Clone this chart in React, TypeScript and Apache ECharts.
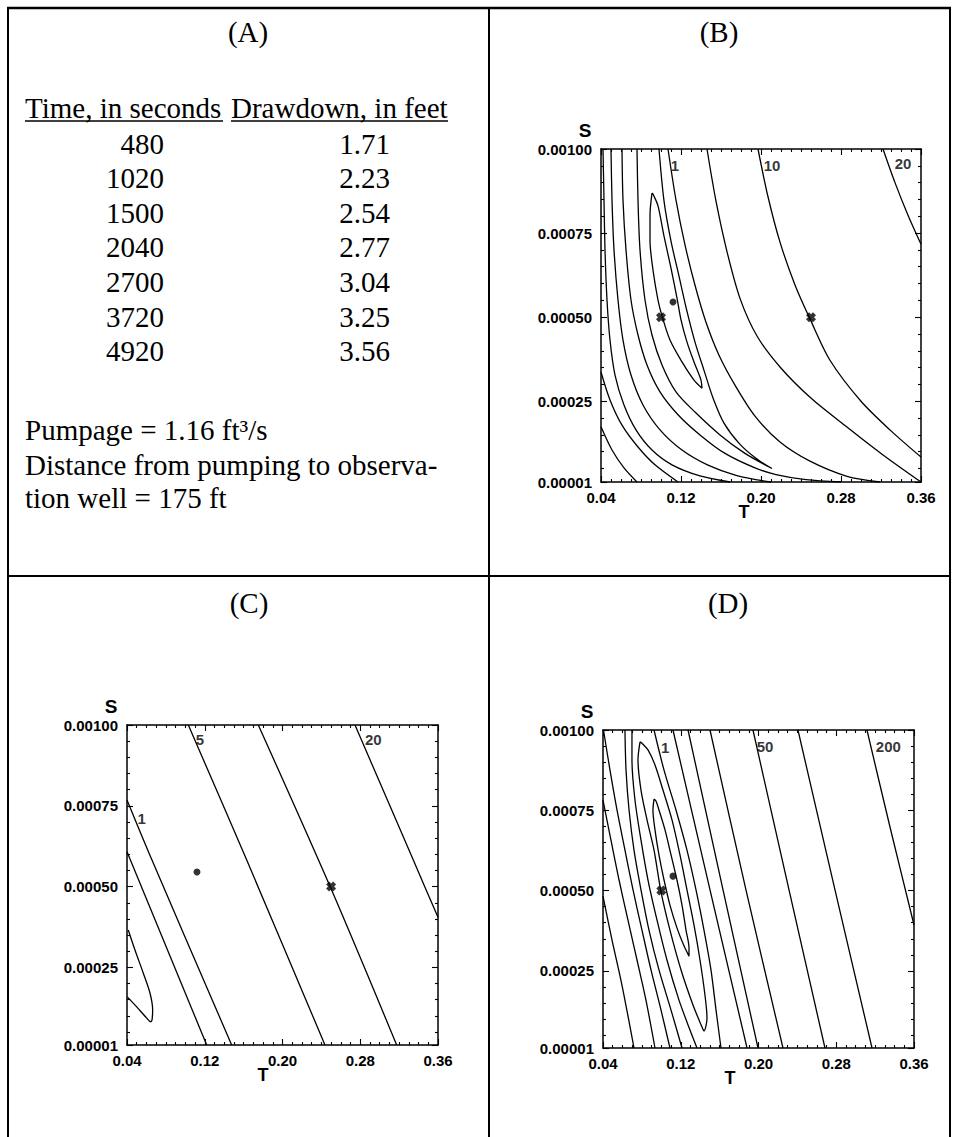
import React, { useEffect, useRef } from "react";
import * as echarts from "echarts";

// ---- Panel (A): pumping-test record ----
const TIMES_S = [480, 1020, 1500, 2040, 2700, 3720, 4920];
const DRAWDOWN_FT = ["1.71", "2.23", "2.54", "2.77", "3.04", "3.25", "3.56"];

// ---- Axis ticks: T in ft^2/s, S in units of 1e-4 ----
const T_TICKS = [0.04, 0.12, 0.2, 0.28, 0.36];
const S_TICKS = [0.1, 2.5, 5, 7.5, 10];

// ---- Marked parameter sets [T, S(1e-4)] ----
const ESTIMATE = [0.112, 5.45];
const CROSS_LOW_T = [0.1, 5.0];
const CROSS_HIGH_T = [0.25, 5.0];

// ---- Panel (B) contours ----
const B_RING_INNER = [[0.091, 8.69], [0.089, 8.04], [0.089, 7.29], [0.092, 6.4], [0.097, 5.51], [0.101, 5.04], [0.109, 4.32], [0.121, 3.67], [0.133, 3.13], [0.141, 2.89], [0.14, 3.13], [0.133, 3.67], [0.126, 4.26], [0.12, 4.92], [0.116, 5.57], [0.11, 6.46], [0.103, 7.41], [0.097, 8.31], [0.092, 8.66], [0.091, 8.69]];
const B_RING_2 = [[0.076, 10.0], [0.077, 8.48], [0.079, 7.0], [0.084, 5.51], [0.091, 4.47], [0.101, 3.58], [0.115, 2.78], [0.134, 2.18], [0.159, 1.5], [0.184, 0.95], [0.211, 0.5], [0.197, 0.76], [0.179, 1.22], [0.163, 1.85], [0.152, 2.6], [0.143, 3.42], [0.134, 4.26], [0.126, 5.17], [0.118, 6.22], [0.11, 7.26], [0.103, 8.46], [0.098, 10.0]];
const B_BAND3_L = [[0.061, 10.0], [0.062, 8.48], [0.065, 7.0], [0.07, 5.51], [0.077, 4.47], [0.086, 3.58], [0.099, 2.78], [0.117, 2.1], [0.139, 1.5], [0.164, 0.95], [0.194, 0.52], [0.215, 0.32], [0.245, 0.17], [0.28, 0.1]];
const B_BAND3_R = [[0.107, 10.0], [0.115, 8.48], [0.124, 7.15], [0.134, 5.95], [0.145, 4.85], [0.158, 3.87], [0.174, 2.98], [0.194, 2.06], [0.219, 1.29], [0.249, 0.72], [0.286, 0.27], [0.319, 0.1]];
const B_BAND4_L = [[0.05, 10.0], [0.051, 8.48], [0.053, 7.0], [0.057, 5.51], [0.062, 4.32], [0.07, 3.28], [0.082, 2.39], [0.099, 1.65], [0.121, 1.05], [0.147, 0.6], [0.175, 0.3], [0.21, 0.1]];
const B_BAND4_R = [[0.146, 10.0], [0.155, 8.45], [0.166, 6.95], [0.179, 5.56], [0.196, 4.44], [0.219, 3.52], [0.249, 2.62], [0.284, 1.78], [0.32, 0.95], [0.36, 0.1]];
const B_BAND5_L = [[0.042, 10.0], [0.043, 8.48], [0.044, 7.0], [0.046, 5.51], [0.049, 4.32], [0.054, 3.28], [0.063, 2.39], [0.075, 1.65], [0.091, 1.05], [0.111, 0.61], [0.139, 0.28], [0.169, 0.1]];
const B_BAND5_R = [[0.197, 10.0], [0.207, 8.58], [0.219, 7.23], [0.234, 5.96], [0.249, 4.95], [0.269, 3.72], [0.3, 2.5], [0.33, 1.62], [0.36, 0.84]];
const B_BAND6_L = [[0.04, 3.37], [0.049, 2.54], [0.061, 1.79], [0.077, 1.14], [0.094, 0.61], [0.117, 0.1]];
const B_BAND6_R = [[0.322, 10.0], [0.334, 9.0], [0.347, 8.03], [0.36, 7.17]];
const B_BAND7_L = [[0.04, 1.74], [0.051, 1.05], [0.063, 0.52], [0.076, 0.1]];
const B_LABELS: [number, number, string][] = [[0.114, 9.52, "1"], [0.211, 9.52, "10"], [0.342, 9.58, "20"]];

// ---- Panel (C) contours ----
const C_EDGE_A = [[0.04, 6.08], [0.122, 0.1]];
const C_EDGE_B = [[0.04, 7.68], [0.0657, 5.82], [0.1477, 0.1]];
const C_WEDGE = [[0.0413, 3.66], [0.0482, 3.04], [0.0568, 2.32], [0.0637, 1.7], [0.0664, 1.18], [0.0657, 0.87], [0.0644, 0.82], [0.0603, 0.93], [0.05, 1.28], [0.0403, 1.59]];
const C_LINE_5 = [[0.1031, 10.0], [0.1632, 5.82], [0.2437, 0.1]];
const C_LINE_MID = [[0.1751, 10.0], [0.249, 5.0], [0.3175, 0.1]];
const C_LINE_20 = [[0.2746, 10.0], [0.3346, 5.82], [0.36, 4.05]];
const C_LABELS: [number, number, string][] = [[0.0551, 7.12, "1"], [0.1151, 9.54, "5"], [0.2934, 9.54, "20"]];

// ---- Panel (D) contours ----
const D_RING_INNER = [[0.0925, 7.85], [0.0914, 7.51], [0.0935, 6.89], [0.0976, 6.11], [0.1028, 5.33], [0.1089, 4.55], [0.1161, 3.84], [0.1233, 3.28], [0.1285, 2.96], [0.1285, 3.21], [0.1254, 3.77], [0.1213, 4.55], [0.1161, 5.33], [0.11, 6.11], [0.1038, 6.89], [0.0976, 7.51], [0.0945, 7.79], [0.0925, 7.85]];
const D_RING_2 = [[0.0781, 9.63], [0.076, 9.07], [0.0791, 8.13], [0.0853, 7.2], [0.0925, 6.26], [0.0997, 4.96], [0.1089, 3.77], [0.1203, 2.53], [0.1326, 1.44], [0.1419, 0.75], [0.1439, 0.63], [0.147, 1.03], [0.1449, 1.75], [0.1398, 2.84], [0.1336, 3.93], [0.1264, 5.02], [0.1192, 6.11], [0.111, 7.2], [0.1017, 8.13], [0.0935, 8.91], [0.0863, 9.38], [0.0801, 9.59], [0.0781, 9.63]];
const D_BAND3_L = [[0.0698, 10.0], [0.0698, 9.07], [0.0729, 7.82], [0.0791, 6.57], [0.0863, 5.33], [0.0956, 4.08], [0.1058, 2.84], [0.1182, 1.59], [0.1295, 0.66], [0.1367, 0.1]];
const D_BAND3_R = [[0.0925, 10.0], [0.1028, 8.75], [0.1151, 7.51], [0.1264, 6.26], [0.1357, 5.02], [0.1439, 3.77], [0.1511, 2.53], [0.1563, 1.28], [0.1614, 0.1]];
const D_BAND4_L = [[0.0626, 10.0], [0.0637, 8.75], [0.0668, 7.51], [0.0719, 6.26], [0.0791, 5.02], [0.0873, 3.77], [0.0976, 2.53], [0.11, 1.28], [0.1213, 0.1]];
const D_BAND4_R = [[0.112, 10.0], [0.1501, 5.02], [0.1882, 0.1]];
const D_BAND5_L = [[0.0405, 10.0], [0.0472, 8.75], [0.0544, 7.51], [0.0626, 6.26], [0.0709, 5.02], [0.0801, 3.77], [0.0894, 2.53], [0.0997, 1.28], [0.1089, 0.1]];
const D_BAND5_R = [[0.1275, 10.0], [0.1635, 5.02], [0.1995, 0.1]];
const D_BAND6_L = [[0.04, 7.82], [0.0482, 6.57], [0.0565, 5.33], [0.0657, 4.08], [0.075, 2.84], [0.0842, 1.59], [0.0935, 0.1]];
const D_BAND6_R = [[0.1501, 10.0], [0.1871, 5.02], [0.2252, 0.1]];
const D_BAND7_L = [[0.04, 4.83], [0.0493, 3.46], [0.0595, 2.06], [0.0719, 0.1]];
const D_LINE_50 = [[0.1943, 10.0], [0.2314, 5.02], [0.2684, 0.1]];
const D_LINE_100 = [[0.2406, 10.0], [0.2787, 5.02], [0.3168, 0.1]];
const D_LINE_200 = [[0.3116, 10.0], [0.3353, 6.98], [0.36, 3.93]];
const D_LABELS: [number, number, string][] = [[0.104, 9.45, "1"], [0.2067, 9.48, "50"], [0.3336, 9.48, "200"]];

const SERIF = "'Liberation Serif', 'Times New Roman', Times, serif";
const SANS = "'Liberation Sans', Arial, Helvetica, sans-serif";

// plot rectangles of panels B, C, D
const GRIDS = [
  { left: 601, top: 149, width: 320, height: 333 },
  { left: 127, top: 725, width: 311, height: 320 },
  { left: 603, top: 730, width: 311, height: 318 },
];

const T_MINOR: number[] = [];
for (let k = 1; k < 32; k++) if (k % 8 !== 0) T_MINOR.push(+(0.04 + k * 0.01).toFixed(3));
const S_MINOR: number[] = [];
for (let k = 1; k < 20; k++) if (k % 5 !== 0) S_MINOR.push(k * 0.5);

// bold "x" marker
const CROSS_PATH = "path://M0,3 L3,0 L5,2 L7,0 L10,3 L8,5 L10,7 L7,10 L5,8 L3,10 L0,7 L2,5 Z";

const axisFont = { fontFamily: SANS, fontWeight: "bold", fontSize: 15, color: "#000" };
const frameLine = { show: true, onZero: false, lineStyle: { color: "#000", width: 1.5 } };
const tickStyle = { color: "#000", width: 1.1 };

function xAxesFor(g: number) {
  const base = { gridIndex: g, type: "value", min: 0.04, max: 0.36, splitLine: { show: false } };
  const major = (position: string, labels: boolean) => ({
    ...base,
    position,
    axisLine: frameLine,
    axisTick: { show: true, inside: true, length: 6, customValues: T_TICKS, lineStyle: tickStyle },
    axisLabel: labels
      ? { show: true, customValues: T_TICKS, formatter: (v: number) => v.toFixed(2), margin: 8, ...axisFont }
      : { show: false },
  });
  const minor = (position: string) => ({
    ...base,
    position,
    axisLine: { show: false },
    axisTick: { show: true, inside: true, length: 3, customValues: T_MINOR, lineStyle: tickStyle },
    axisLabel: { show: false },
  });
  return [major("bottom", true), major("top", false), minor("bottom"), minor("top")];
}

function yAxesFor(g: number) {
  const base = { gridIndex: g, type: "value", min: 0.1, max: 10, splitLine: { show: false } };
  const major = (position: string, labels: boolean) => ({
    ...base,
    position,
    axisLine: frameLine,
    axisTick: { show: true, inside: true, length: 6, customValues: S_TICKS, lineStyle: tickStyle },
    axisLabel: labels
      ? { show: true, customValues: S_TICKS, formatter: (v: number) => (v / 10000).toFixed(5), margin: 9, ...axisFont }
      : { show: false },
  });
  const minor = (position: string) => ({
    ...base,
    position,
    axisLine: { show: false },
    axisTick: { show: true, inside: true, length: 3, customValues: S_MINOR, lineStyle: tickStyle },
    axisLabel: { show: false },
  });
  return [major("left", true), major("right", false), minor("left"), minor("right")];
}

const contour = (g: number, data: number[][]) => ({
  type: "line",
  xAxisIndex: g * 4,
  yAxisIndex: g * 4,
  data,
  symbol: "none",
  showSymbol: false,
  smooth: 0.3,
  clip: true,
  silent: true,
  lineStyle: { color: "#000", width: 1.3 },
  z: 3,
});

const markerSeries = (g: number, crosses: number[][]) => [
  {
    type: "scatter",
    xAxisIndex: g * 4,
    yAxisIndex: g * 4,
    data: crosses,
    symbol: CROSS_PATH,
    symbolSize: 10,
    itemStyle: { color: "#000" },
    silent: true,
    z: 5,
  },
  {
    type: "scatter",
    xAxisIndex: g * 4,
    yAxisIndex: g * 4,
    data: [ESTIMATE],
    symbol: "circle",
    symbolSize: 7,
    itemStyle: { color: "#000" },
    silent: true,
    z: 5,
  },
];

const labelSeries = (g: number, items: [number, number, string][]) => ({
  type: "scatter",
  xAxisIndex: g * 4,
  yAxisIndex: g * 4,
  data: items.map(([t, s, name]) => ({ value: [t, s], name })),
  symbolSize: 1,
  itemStyle: { color: "rgba(0,0,0,0)" },
  label: { show: true, position: "inside", formatter: "{b}", color: "#000", fontFamily: SANS, fontWeight: "bold", fontSize: 15 },
  silent: true,
  z: 6,
});

const PANEL_B = [B_RING_INNER, B_RING_2, B_BAND3_L, B_BAND3_R, B_BAND4_L, B_BAND4_R, B_BAND5_L, B_BAND5_R, B_BAND6_L, B_BAND6_R, B_BAND7_L];
const PANEL_C = [C_EDGE_A, C_EDGE_B, C_WEDGE, C_LINE_5, C_LINE_MID, C_LINE_20];
const PANEL_D = [D_RING_INNER, D_RING_2, D_BAND3_L, D_BAND3_R, D_BAND4_L, D_BAND4_R, D_BAND5_L, D_BAND5_R, D_BAND6_L, D_BAND6_R, D_BAND7_L, D_LINE_50, D_LINE_100, D_LINE_200];

const lineEl = (x1: number, y1: number, x2: number, y2: number, w = 2) => ({
  type: "line",
  silent: true,
  shape: { x1, y1, x2, y2 },
  style: { stroke: "#000", lineWidth: w },
});

const textEl = (text: string, x: number, y: number, align: string, font: { size: number; family: string; weight?: string }) => ({
  type: "text",
  silent: true,
  x,
  y,
  style: {
    text,
    fill: "#000",
    fontSize: font.size,
    fontFamily: font.family,
    fontWeight: font.weight || "normal",
    align,
    textAlign: align,
    verticalAlign: "middle",
    textVerticalAlign: "middle",
  },
});

function buildGraphic() {
  const serif = { size: 29, family: SERIF };
  const els: any[] = [
    // table rules
    lineEl(7, 8, 951, 8, 2.5),
    lineEl(8, 7, 8, 1137),
    lineEl(489, 7, 489, 1137),
    lineEl(950, 7, 950, 1137),
    lineEl(7, 576, 951, 576),
    // panel titles
    textEl("(A)", 248, 32, "center", serif),
    textEl("(B)", 719, 32, "center", serif),
    textEl("(C)", 249, 603, "center", serif),
    textEl("(D)", 728, 603, "center", serif),
    // table header
    textEl("Time, in seconds", 25, 108, "left", serif),
    textEl("Drawdown, in feet", 231, 108, "left", serif),
    lineEl(25, 121, 223, 121, 1.5),
    lineEl(231, 121, 448, 121, 1.5),
    textEl("Pumpage = 1.16 ft\u00B3/s", 25, 430, "left", serif),
    textEl("Distance from pumping to observa-", 25, 465, "left", serif),
    textEl("tion well = 175 ft", 25, 498, "left", serif),
  ];
  TIMES_S.forEach((t, i) => {
    const y = 143.5 + i * 34.6;
    els.push(textEl(String(t), 164, y, "right", serif));
    els.push(textEl(DRAWDOWN_FT[i], 390, y, "right", serif));
  });
  // axis titles
  const sTitle = { size: 19, family: SANS, weight: "bold" };
  const tTitle = { size: 18, family: SANS, weight: "bold" };
  GRIDS.forEach((g, i) => {
    els.push(textEl("S", g.left - 16, g.top - 19, "center", sTitle));
    const tx = [744, 263, 730][i];
    els.push(textEl("T", tx, g.top + g.height + 30, "center", tTitle));
  });
  return els;
}

function buildOption() {
  const series: any[] = [];
  PANEL_B.forEach((d) => series.push(contour(0, d)));
  PANEL_C.forEach((d) => series.push(contour(1, d)));
  PANEL_D.forEach((d) => series.push(contour(2, d)));
  series.push(...markerSeries(0, [CROSS_LOW_T, CROSS_HIGH_T]));
  series.push(...markerSeries(1, [CROSS_HIGH_T]));
  series.push(...markerSeries(2, [CROSS_LOW_T]));
  series.push(labelSeries(0, B_LABELS));
  series.push(labelSeries(1, C_LABELS));
  series.push(labelSeries(2, D_LABELS));
  return {
    animation: false,
    backgroundColor: "#fff",
    grid: GRIDS.map((g) => ({ ...g, containLabel: false, show: false })),
    xAxis: [0, 1, 2].flatMap(xAxesFor),
    yAxis: [0, 1, 2].flatMap(yAxesFor),
    series,
    graphic: { elements: buildGraphic() },
  };
}

export default function App() {
  const ref = useRef<HTMLDivElement>(null);
  useEffect(() => {
    if (!ref.current) return;
    const chart = echarts.init(ref.current, null, { renderer: "svg" });
    chart.setOption(buildOption() as any);
    return () => chart.dispose();
  }, []);
  return (
    <div
      ref={ref}
      style={{ position: "absolute", left: 0, top: 0, width: 958, height: 1137, background: "#fff" }}
    />
  );
}
